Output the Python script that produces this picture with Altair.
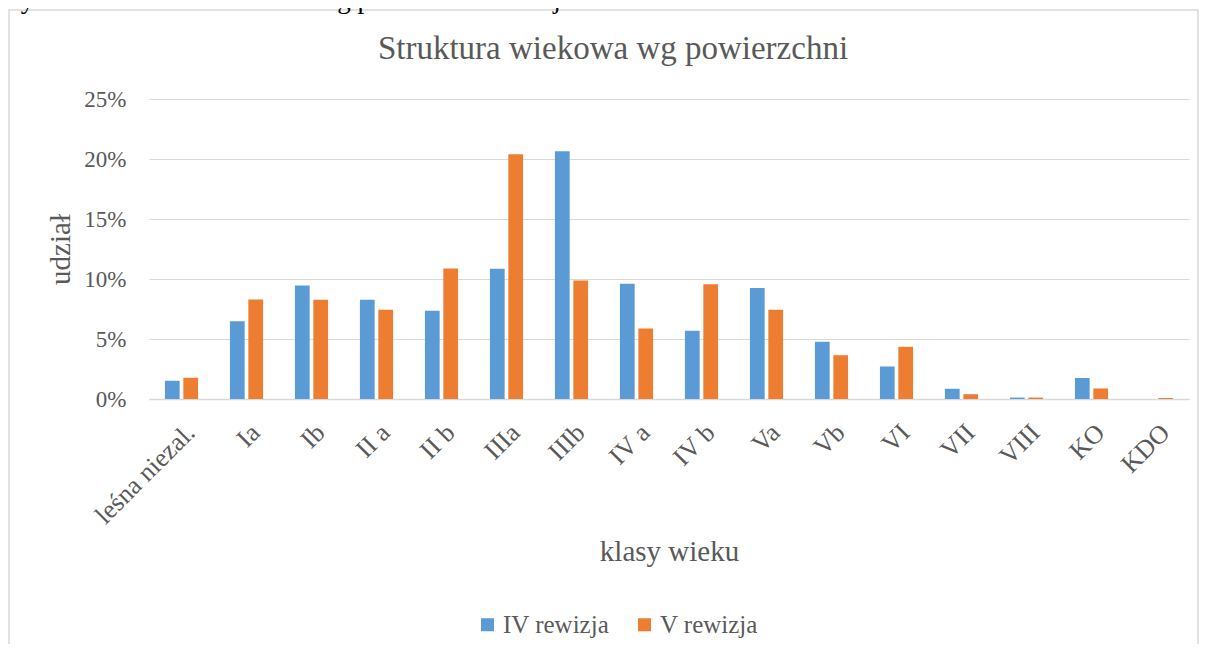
import altair as alt
import pandas as pd

categories = ["leśna niezal.", "Ia", "Ib", "II a", "II b", "IIIa", "IIIb", "IV a",
              "IV b", "Va", "Vb", "VI", "VII", "VIII", "KO", "KDO"]
series_names = ["IV rewizja", "V rewizja"]
iv_rewizja = [1.52, 6.48, 9.46, 8.27, 7.35, 10.85, 20.65, 9.60,
              5.68, 9.24, 4.77, 2.71, 0.85, 0.12, 1.75, 0.0]
v_rewizja = [1.77, 8.29, 8.27, 7.43, 10.88, 20.40, 9.88, 5.88,
             9.57, 7.43, 3.65, 4.35, 0.40, 0.12, 0.88, 0.08]
y_ticks = [0, 0.05, 0.10, 0.15, 0.20, 0.25]

chart_title = "Struktura wiekowa wg powierzchni"
caption = "Wykres 6 Struktura wiekowa wg powierzchni leśnej"
x_title = "klasy wieku"
y_title = "udział"

colors = ["#5B9BD5", "#ED7D31"]
FONT = "Liberation Serif"
GREY = "#595959"

rows = []
for c, a, b in zip(categories, iv_rewizja, v_rewizja):
    rows.append({"klasa": c, "seria": series_names[0], "udzial": a / 100})
    rows.append({"klasa": c, "seria": series_names[1], "udzial": b / 100})
df = pd.DataFrame(rows)

W, H = 1040, 300

border = alt.Chart(pd.DataFrame({"k": [0]})).mark_rect(
    fill=None, stroke="#D9D9D9", strokeWidth=1.5
).encode(
    x=alt.value(-140), x2=alt.value(1049), y=alt.value(-89), y2=alt.value(700)
)

cap = alt.Chart(pd.DataFrame({"t": [caption]})).mark_text(
    font=FONT, fontSize=27, color="#000000", align="left", baseline="alphabetic"
).encode(x=alt.value(-152), y=alt.value(-91), text="t:N")

title = alt.Chart(pd.DataFrame({"t": [chart_title]})).mark_text(
    font=FONT, fontSize=33, color=GREY, align="center", baseline="alphabetic"
).encode(x=alt.value(464), y=alt.value(-40.5), text="t:N")

bars = alt.Chart(df).mark_bar().encode(
    x=alt.X("klasa:N", sort=categories,
            scale=alt.Scale(paddingInner=0.49, paddingOuter=0.245),
            axis=alt.Axis(title=x_title, labelAngle=-45, labelAlign="right",
                          labelBaseline="top", labelPadding=20, labelFontSize=26,
                          labelFont=FONT, labelColor=GREY, ticks=False,
                          domainColor="#D9D9D9", domainWidth=1.5,
                          titleFont=FONT, titleFontSize=29, titleColor=GREY,
                          titleFontWeight="normal", titleX=520, titleY=161.7,
                          titleBaseline="alphabetic", titleAlign="center")),
    xOffset=alt.XOffset("seria:N", sort=series_names,
                        scale=alt.Scale(paddingInner=0.2)),
    y=alt.Y("udzial:Q", scale=alt.Scale(domain=[0, 0.25], nice=False),
            axis=alt.Axis(values=y_ticks, format=".0%", title=y_title,
                          labelFontSize=23, labelFont=FONT, labelColor=GREY,
                          labelPadding=23, ticks=False, domain=False,
                          gridColor="#D9D9D9", gridWidth=1.2,
                          titleFont=FONT, titleFontSize=29, titleColor=GREY,
                          titleFontWeight="normal", titleAngle=270,
                          titleX=-80, titleY=150, titleBaseline="alphabetic",
                          titleAlign="center")),
    color=alt.Color("seria:N", sort=series_names,
                    scale=alt.Scale(domain=series_names, range=colors),
                    legend=alt.Legend(title=None, orient="none", direction="horizontal",
                                      legendX=326, legendY=513, symbolType="square",
                                      symbolSize=169, symbolStrokeWidth=0,
                                      labelFont=FONT, labelFontSize=25,
                                      labelColor=GREY, labelOffset=3,
                                      columnPadding=22, padding=0)),
)

chart = alt.layer(border, cap, title, bars).properties(
    width=W, height=H,
    autosize=alt.AutoSizeParams(type="none"),
    padding={"left": 141, "top": 91, "right": 10, "bottom": 245},
    background="white",
).configure_view(stroke=None)

chart.save("out.html", embed_options={"renderer": "svg", "actions": False})
